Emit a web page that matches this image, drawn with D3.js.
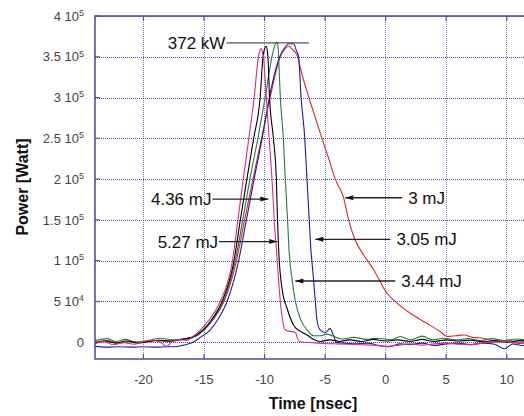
<!DOCTYPE html>
<html>
<head>
<meta charset="utf-8">
<script src="https://cdn.jsdelivr.net/npm/d3@7"></script>
<style>
  html, body { margin: 0; padding: 0; background: #ffffff; }
  svg { display: block; font-family: "Liberation Sans", Arial, sans-serif; }
</style>
</head>
<body>
<svg id="chart" width="524" height="416"></svg>
<script>
// ---- Data (time in ns, power in W) ----
const xTickValues = [-20, -15, -10, -5, 0, 5, 10];
const xTickLabels = ["-20", "-15", "-10", "-5", "0", "5", "10"];
const yTickValues = [0, 50000, 100000, 150000, 200000, 250000, 300000, 350000, 400000];
const yTickMantissa = ["0", "5", "1", "1.5", "2", "2.5", "3", "3.5", "4"];
const yTickExponent = ["", "4", "5", "5", "5", "5", "5", "5", "5"];

const seriesNames = ["3 mJ", "3.05 mJ", "3.44 mJ", "5.27 mJ", "4.36 mJ"];
const seriesColors = ["#d42a2a", "#1c1ca8", "#2b7a3c", "#000000", "#dc2a8c"];

const redPulse = [[-24,0],[-23,2000],[-22,-1000],[-21,1000],[-20,-500],[-19,2000],[-18,1000],[-17,3500],[-16,6000],[-15,15000],[-14.3,27000],[-13.35,50000],[-12.35,98000],[-11.65,150000],[-10.95,201000],[-10.25,250000],[-9.53,301000],[-8.7,350000],[-8.3,360000],[-8.02,363000],[-7.7,359000],[-7.32,352000],[-6.9,328000],[-6.36,301000],[-5.8,275000],[-5.26,250000],[-4.7,225000],[-4.16,200000],[-3.47,177000],[-3.06,150000],[-2.51,125000],[-1.82,107000],[-0.99,89000],[0.02,62000],[0.94,48000],[2.04,35500],[3.42,23000],[4.52,13000],[5.07,7000],[5.8,8000],[6.45,9000],[7.2,6000],[8.07,5000],[9.21,1000],[10,2500],[11,0],[12,1500]];

const bluePulse = [[-24,-5000],[-23,-6000],[-22,-5500],[-21,-6000],[-20,-5500],[-19,-6000],[-18,-5500],[-17.5,-5500],[-16.7,-3500],[-15.9,0],[-15.3,6000],[-14.49,15000],[-13.9,27000],[-13.08,50600],[-12.17,98000],[-11.5,150000],[-10.85,201000],[-10.2,250000],[-9.59,301000],[-8.75,350000],[-8.3,362000],[-8.0,366000],[-7.6,366000],[-7.38,358000],[-7.19,350000],[-6.99,301000],[-6.68,250000],[-6.5,201000],[-6.31,150000],[-6.17,113000],[-6.08,98000],[-5.81,50600],[-5.67,27000],[-5.4,15000],[-4.95,12000],[-4.6,17000],[-4.35,10000],[-4.05,0],[-3.5,-1000],[-2.5,-2000],[-1.5,-1000],[-0.5,-4000],[0.3,-5500],[1.2,-2000],[2,-3000],[3,-1000],[4,-4000],[5,-2000],[6,-1000],[7,-3000],[8,-1000],[9,-2500],[9.8,-8000],[10.5,-2000],[11.3,-4000],[12,-1000]];

const greenPulse = [[-24,2000],[-23,4500],[-22.3,1000],[-21.5,3500],[-20.6,0],[-19.6,2000],[-18.6,5000],[-17.6,3000],[-16.6,4000],[-15.6,8000],[-15,15000],[-14.3,27000],[-13.4,50000],[-12.45,98000],[-11.8,150000],[-11.2,201000],[-10.55,250000],[-9.94,301000],[-9.39,350000],[-9.15,364000],[-8.98,368000],[-8.88,362000],[-8.84,350000],[-8.70,301000],[-8.45,250000],[-8.29,201000],[-8.10,150000],[-8.0,118000],[-7.74,78000],[-7.46,50600],[-7.05,29000],[-6.36,13000],[-5.95,8000],[-5.4,8000],[-4.9,10000],[-4.4,8000],[-3.6,4000],[-2.6,6000],[-1.6,3500],[-0.6,5000],[0.4,3000],[1.2,7000],[2.1,3000],[3.0,7500],[3.9,3000],[4.8,5000],[5.8,3000],[6.8,4500],[7.8,2000],[8.8,4500],[9.8,2000],[10.8,4000],[12,2000]];

const blackPulse = [[-24,-1000],[-23.2,1500],[-22.3,-1000],[-21.4,1500],[-20.5,-1000],[-19.6,1000],[-18.7,2500],[-17.8,1500],[-17,3000],[-16,6000],[-15.1,15000],[-14.4,27000],[-13.5,50000],[-12.55,98000],[-12.0,150000],[-11.45,201000],[-10.9,250000],[-10.36,301000],[-10.13,350000],[-10.0,360000],[-9.88,363000],[-9.78,358000],[-9.72,350000],[-9.59,301000],[-9.27,250000],[-9.03,201000],[-8.93,150000],[-8.84,115000],[-8.56,66000],[-8.15,42000],[-7.6,21000],[-7.0,13000],[-6.5,9000],[-5.9,3000],[-5.4,1000],[-4.6,3000],[-3.8,1000],[-3,3000],[-2,1000],[-1,3500],[0,1500],[1,3000],[2,1000],[3,3500],[4,1000],[5,3000],[6,1500],[7,2500],[8,500],[9,2000],[10,0],[11,2000],[12,1000]];

const magentaPulse = [[-24,-2000],[-23.3,1000],[-22.5,-3000],[-21.6,-500],[-20.8,-2500],[-20,1000],[-19.2,2500],[-18.5,-1000],[-18.1,-5000],[-17.6,1000],[-17,3000],[-16.4,2500],[-16,6000],[-15.3,15000],[-14.6,27000],[-13.66,50000],[-12.67,98000],[-12.2,150000],[-11.75,201000],[-11.3,250000],[-10.85,301000],[-10.55,345000],[-10.42,356000],[-10.3,360000],[-10.18,356000],[-10.08,348000],[-9.86,301000],[-9.62,250000],[-9.39,201000],[-9.2,150000],[-9.0,110000],[-8.7,50000],[-8.5,26000],[-8.35,16000],[-8.1,14000],[-7.7,13000],[-7.45,12000],[-7.2,2000],[-6.8,0],[-6,-500],[-5,-1500],[-4,-2000],[-3,-2500],[-2,-3000],[-1,-3500],[0,-5000],[1,-4000],[2,-2000],[3,-3500],[4,-2000],[5,-1000],[6,-2500],[7,-3000],[8,-1000],[9,0],[10,1000],[11,-1500],[12,0]];

const seriesData = [redPulse, bluePulse, greenPulse, blackPulse, magentaPulse];

// Annotations: label, arrow tail / tip times, power level, side of label
const annotations = [
  { text: "372 kW", y: 367000, from: -13.15, to: -6.33, side: "left", arrow: false },
  { text: "4.36 mJ", y: 175600, from: -14.3, to: -9.69, side: "left", arrow: true },
  { text: "5.27 mJ", y: 123500, from: -13.75, to: -8.95, side: "left", arrow: true },
  { text: "3 mJ", y: 177200, from: 1.36, to: -3.33, side: "right", arrow: true },
  { text: "3.05 mJ", y: 126200, from: 0.39, to: -5.81, side: "right", arrow: true },
  { text: "3.44 mJ", y: 75100, from: 0.8, to: -7.46, side: "right", arrow: true }
];

// ---- Layout ----
const svg = d3.select("#chart");
const plotLeft = 95, plotTop = 16, plotBottom = 359, plotRight = 531;

const x = d3.scaleLinear().domain([-24, 12]).range([plotLeft, plotRight]);
const y = d3.scaleLinear().domain([-20500, 400000]).range([plotBottom, plotTop]);

svg.append("defs").append("clipPath").attr("id", "clip")
  .append("rect").attr("x", plotLeft).attr("y", plotTop)
  .attr("width", plotRight - plotLeft).attr("height", plotBottom - plotTop);

// grid
const grid = svg.append("g");
grid.selectAll("line.v").data(xTickValues).enter().append("line")
  .attr("x1", d => x(d)).attr("x2", d => x(d))
  .attr("y1", plotTop).attr("y2", plotBottom)
  .attr("stroke", "#8080c0").attr("stroke-width", 1)
  .attr("stroke-dasharray", "1,1").attr("shape-rendering", "crispEdges");
grid.selectAll("line.h").data(yTickValues).enter().append("line")
  .attr("x1", plotLeft).attr("x2", plotRight)
  .attr("y1", d => Math.round(y(d)) + 0.5).attr("y2", d => Math.round(y(d)) + 0.5)
  .attr("stroke", "#4848b0").attr("stroke-width", 1)
  .attr("stroke-dasharray", "1,1");

// inner ticks
const tickLen = 5;
grid.selectAll("line.ty").data(yTickValues).enter().append("line")
  .attr("x1", plotLeft).attr("x2", plotLeft + tickLen)
  .attr("y1", d => y(d)).attr("y2", d => y(d))
  .attr("stroke", "#5050a0").attr("stroke-width", 1.2);
grid.selectAll("line.tx").data(xTickValues).enter().append("line")
  .attr("x1", d => x(d)).attr("x2", d => x(d))
  .attr("y1", plotBottom).attr("y2", plotBottom - tickLen)
  .attr("stroke", "#5050a0").attr("stroke-width", 1.2);
grid.selectAll("line.tx2").data(xTickValues).enter().append("line")
  .attr("x1", d => x(d)).attr("x2", d => x(d))
  .attr("y1", plotTop).attr("y2", plotTop + tickLen)
  .attr("stroke", "#5050a0").attr("stroke-width", 1.2);

// curves
const line = d3.line().x(d => x(d[0])).y(d => y(d[1])).curve(d3.curveMonotoneX);
const curves = svg.append("g").attr("clip-path", "url(#clip)");
seriesData.forEach((s, i) => {
  curves.append("path").datum(s)
    .attr("fill", "none").attr("stroke", seriesColors[i])
    .attr("stroke-width", 1.1).attr("d", line);
});

// frame
svg.append("rect").attr("x", plotLeft).attr("y", plotTop)
  .attr("width", plotRight - plotLeft).attr("height", plotBottom - plotTop)
  .attr("fill", "none").attr("stroke", "#4a4a9c").attr("stroke-width", 1.5);

// y tick labels
const yl = svg.append("g").attr("fill", "#444").attr("font-size", 13);
yTickValues.forEach((v, i) => {
  const t = yl.append("text").attr("x", 84).attr("y", y(v)).attr("dy", "0.36em")
    .attr("text-anchor", "end");
  if (yTickExponent[i] === "") {
    t.text(yTickMantissa[i]);
  } else {
    t.append("tspan").text(yTickMantissa[i] + " 10");
    t.append("tspan").attr("font-size", 9).attr("dy", "-0.55em").text(yTickExponent[i]);
  }
});

// x tick labels
svg.append("g").attr("fill", "#444").attr("font-size", 13)
  .selectAll("text").data(xTickValues).enter().append("text")
  .attr("x", d => x(d)).attr("y", 384).attr("text-anchor", "middle")
  .text((d, i) => xTickLabels[i]);

// axis titles
svg.append("text").attr("x", 313).attr("y", 409).attr("text-anchor", "middle")
  .attr("font-size", 16).attr("font-weight", "bold").attr("fill", "#111")
  .text("Time [nsec]");
svg.append("text").attr("transform", "translate(28,187) rotate(-90)")
  .attr("text-anchor", "middle").attr("font-size", 16).attr("font-weight", "bold")
  .attr("fill", "#111").text("Power [Watt]");

// annotations
const ann = svg.append("g");
annotations.forEach(a => {
  const yy = y(a.y);
  const x1 = x(a.from), x2 = x(a.to);
  ann.append("line").attr("x1", x1).attr("x2", x2).attr("y1", yy).attr("y2", yy)
    .attr("stroke", a.arrow ? "#222" : "#555").attr("stroke-width", 1.3);
  if (a.arrow) {
    const dir = x2 > x1 ? 1 : -1;
    ann.append("path")
      .attr("d", `M${x2},${yy} L${x2 - dir * 8},${yy - 2.5} L${x2 - dir * 8},${yy + 2.5} Z`)
      .attr("fill", "#111");
  }
  ann.append("text")
    .attr("x", a.side === "left" ? x1 - 1 : x1 + 6)
    .attr("y", yy).attr("dy", "0.36em")
    .attr("text-anchor", a.side === "left" ? "end" : "start")
    .attr("font-size", 17).attr("fill", "#111")
    .text(a.text);
});
</script>
</body>
</html>
